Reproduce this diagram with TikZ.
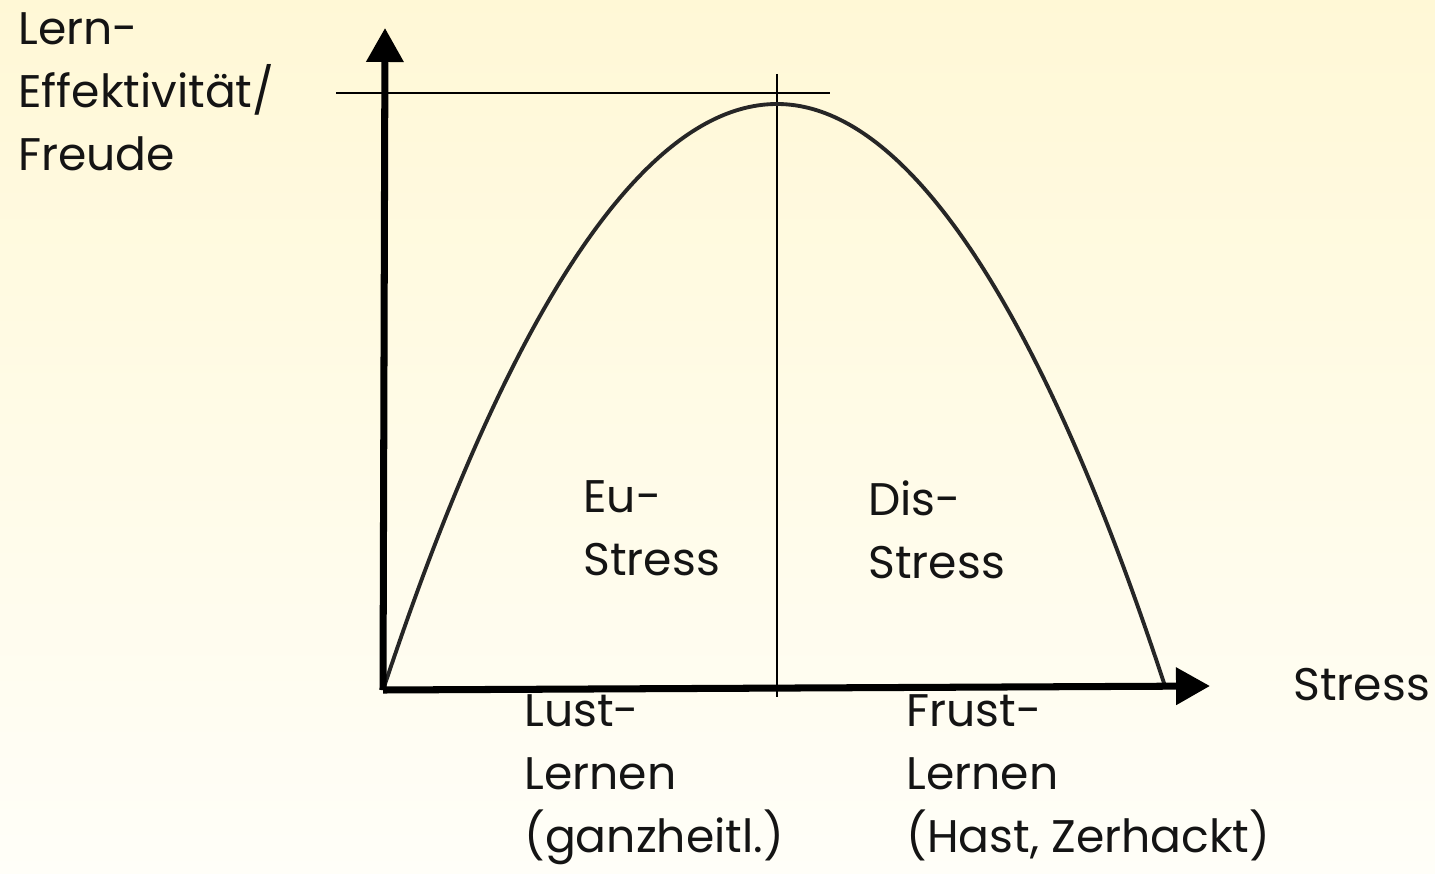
\documentclass[tikz,border=0pt]{standalone}
\usepackage{fontspec}
\setmainfont{Poppins}
\usepackage{tikz}
\usetikzlibrary{positioning, arrows.meta}

\definecolor{bgtop}{RGB}{255,248,214}
\definecolor{bgbottom}{RGB}{255,254,248}
\definecolor{ink}{RGB}{20,20,20}

\begin{document}
\begin{tikzpicture}[
    x=0.02cm, y=0.02cm,
    txt/.style={anchor=north west, inner sep=0pt, align=left, text=ink,
        font=\fontsize{26}{36}\selectfont, execute at begin node={\strut}},
    axis/.style={line width=4pt, -{Triangle[length=0.68cm, width=0.72cm]}},
    guide/.style={line width=0.9pt, black},
    curve/.style={line width=2.2pt, black!85}
]
    % Background
    \fill[top color=bgtop, bottom color=bgbottom] (0,0) rectangle (1435,873);
    \useasboundingbox (0,0) rectangle (1435,873);

    % Points
    \coordinate (origin) at (383,183);
    \coordinate (ytip) at (385,845);
    \coordinate (xtip) at (1210,187);
    \coordinate (peak) at (777,769);
    \coordinate (zero) at (1165,187);
    \coordinate (hleft) at (336,780);
    \coordinate (hright) at (830,780);
    \coordinate (vtop) at (777,799);
    \coordinate (vbottom) at (777,176);

    % Guide lines
    \draw[guide] (hleft) -- (hright);
    \draw[guide] (vtop) -- (vbottom);

    % Curve
    \draw[curve] (origin) parabola bend (peak) (zero);

    % Axes
    \draw[axis] (origin) -- (ytip);
    \draw[axis] (origin) -- (xtip);

    % Labels
    \node[txt] (yaxis) at (18,861) {Lern-\\Effektivität/\\Freude};
    \node[txt] (xaxis) at (1293,217) {Stress};
    \node[txt] (eu) at (583,393) {Eu-\\Stress};
    \node[txt] (dis) at (868,393) {Dis-\\Stress};
    \node[txt] (lust) at (524,179) {Lust-\\Lernen\\(ganzheitl.)};
    \node[txt] (frust) at (906,179) {Frust-\\Lernen\\(Hast, Zerhackt)};

\end{tikzpicture}
\end{document}
